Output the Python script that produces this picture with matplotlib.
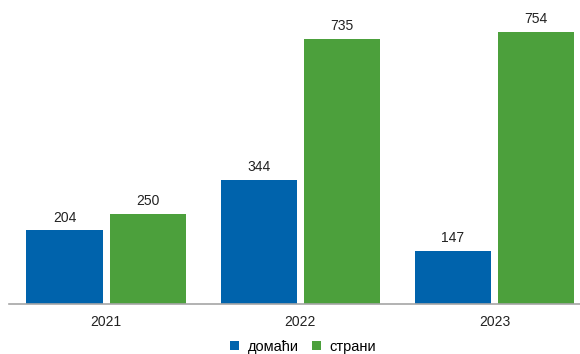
import matplotlib.pyplot as plt
import numpy as np

plt.rcParams['font.family'] = ['Liberation Sans', 'DejaVu Sans']

years = ['2021', '2022', '2023']
domestic = [204, 344, 147]
foreign = [250, 735, 754]

blue = '#0063AC'
green = '#4CA03C'

fig = plt.figure(figsize=(5.8, 3.54), dpi=100)
ax = fig.add_axes([9 / 580, 50 / 354, 582.5 / 580, 304 / 354])

x = np.arange(len(years))
w = 0.392
off = 0.214
b1 = ax.bar(x - off, domestic, w, color=blue, label='домаћи')
b2 = ax.bar(x + off, foreign, w, color=green, label='страни')

for bars in (b1, b2):
    for r in bars:
        ax.text(r.get_x() + r.get_width() / 2, r.get_height() + 16,
                f'{int(r.get_height())}', ha='center', va='bottom',
                fontsize=10, color='#222222')

ax.set_xlim(-0.5, 2.5)
ax.set_ylim(0, 843)
ax.set_xticks(x)
ax.set_xticklabels(years, fontsize=10, color='#222222')
ax.tick_params(axis='x', length=0, pad=8)
ax.set_yticks([])
for s in ['top', 'right', 'left']:
    ax.spines[s].set_visible(False)
ax.spines['bottom'].set_color('#A6A6A6')
ax.spines['bottom'].set_linewidth(1.2)

fig.legend(handles=[b1, b2], loc='center', bbox_to_anchor=(303 / 580, 1 - 347 / 354),
           ncol=2, frameon=False, fontsize=10.5, handlelength=0.6, handleheight=0.6,
           handletextpad=0.6, columnspacing=0.9)

fig.savefig('out.png', dpi=100)
